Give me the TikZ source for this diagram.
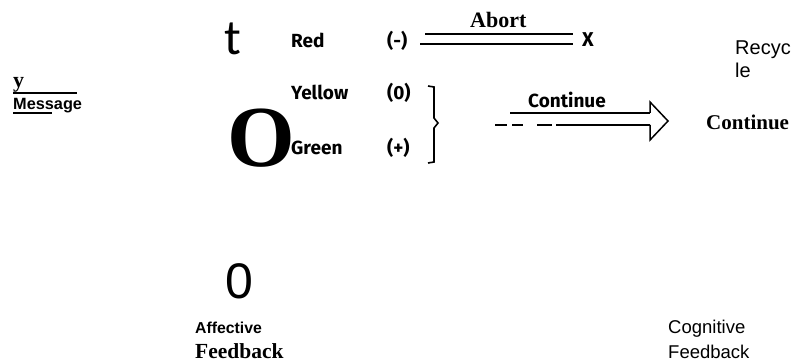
\documentclass[tikz,border=0pt]{standalone}
\usepackage{fontspec}
\setmainfont{Liberation Serif}
\setsansfont{Liberation Sans}
\newfontfamily\hfont{Fira Sans}
\newfontfamily\cfont{Carlito}
\begin{document}
\begin{tikzpicture}[x=1pt,y=-1pt,
  txt/.style={inner sep=0, anchor=base west},
  light/.style={txt, font=\hfont\bfseries\fontsize{19}{19}\selectfont},
  serifb/.style={txt, font=\bfseries\fontsize{22}{22}\selectfont},
  sansr/.style={txt, font=\sffamily\fontsize{18.5}{18.5}\selectfont},
  rule/.style={line width=1.3pt}]
\useasboundingbox (0,0) rectangle (794,363);
% left message
\node[txt, font=\bfseries\fontsize{22}{22}\selectfont] (ylab) at (13,88) {y};
\node[txt, font=\sffamily\bfseries\fontsize{16.3}{16.3}\selectfont] (msg) at (13,110) {Message};
\coordinate (yl0) at (13,93);
\coordinate (yl1) at (77,93);
\coordinate (ml0) at (13,113);
\coordinate (ml1) at (52,113);
\draw[line width=1.5pt] (yl0) -- (yl1);
\draw[line width=1.2pt] (ml0) -- (ml1);
% big letters
\node[txt, font=\cfont\fontsize{50}{50}\selectfont] (tt) at (224,55) {t};
\node[txt, font=\bfseries\fontsize{87}{87}\selectfont] (bigo) at (227,167) {O};
\node[txt, font=\sffamily\fontsize{50}{50}\selectfont] (zero) at (225,298) {0};
% signal levels
\node[light] (red) at (291,48) {Red};
\node[light] (yellow) at (291,100) {Yellow};
\node[light] (green) at (291,155) {Green};
\node[light] (minus) at (387,48) {(-)};
\node[light] (nought) at (387,100) {(0)};
\node[light] (plus) at (387,155) {(+)};
% abort branch
\node[serifb] (abort) at (470,28) {Abort};
\node[light, font=\hfont\bfseries\fontsize{20}{20}\selectfont] (cross) at (582,47) {X};
\coordinate (ab0) at (425,34);
\coordinate (ab1) at (573,34);
\coordinate (ab2) at (545,34);
\coordinate (ab3) at (420,44);
\coordinate (ab4) at (573,44);
\draw[line width=1.1pt] (ab0) -- (ab1);
\draw[line width=2.2pt] (ab2) -- (ab1);
\draw[line width=1.6pt] (ab3) -- (ab4);
% bracket
\coordinate (br0) at (428,86);
\coordinate (br1) at (428,163);
\draw[line width=1.6pt] (br0) -- (434,87) -- (434,118) -- (438,123)
  -- (434,128) -- (434,162) -- (br1);
% continue branch
\node[light] (cont) at (528,108) {Continue};
\coordinate (ar0) at (510,113);
\coordinate (ar1) at (650,113);
\coordinate (ar2) at (650,125);
\coordinate (ar3) at (495,125);
\coordinate (tip) at (668,121);
\draw[line width=1.1pt] (ar0) -- (ar1);
\draw[line width=1.5pt, dash pattern=on 12pt off 5pt on 11pt off 14pt on 15pt off 4pt on 200pt off 0pt] (ar3) -- (ar2);
\draw[line width=1.5pt, line join=miter] (ar1) -- (650,102) -- (tip) -- (650,140) -- (ar2);
% right column
\node[sansr, font=\sffamily\fontsize{20}{20}\selectfont] (rec1) at (735,55) {Recyc};
\node[sansr, font=\sffamily\fontsize{20}{20}\selectfont] (rec2) at (735,78) {le};
\node[serifb, font=\bfseries\fontsize{21}{21}\selectfont] (contr) at (706,130) {Continue};
% bottom labels
\node[txt, font=\sffamily\bfseries\fontsize{15.8}{15.8}\selectfont] (aff) at (195,333) {Affective};
\node[serifb, font=\bfseries\fontsize{21.5}{21.5}\selectfont] (afb) at (195,358) {Feedback};
\node[sansr] (cog) at (668,333) {Cognitive};
\node[sansr] (cfb) at (668,358) {Feedback};
\end{tikzpicture}
\end{document}
